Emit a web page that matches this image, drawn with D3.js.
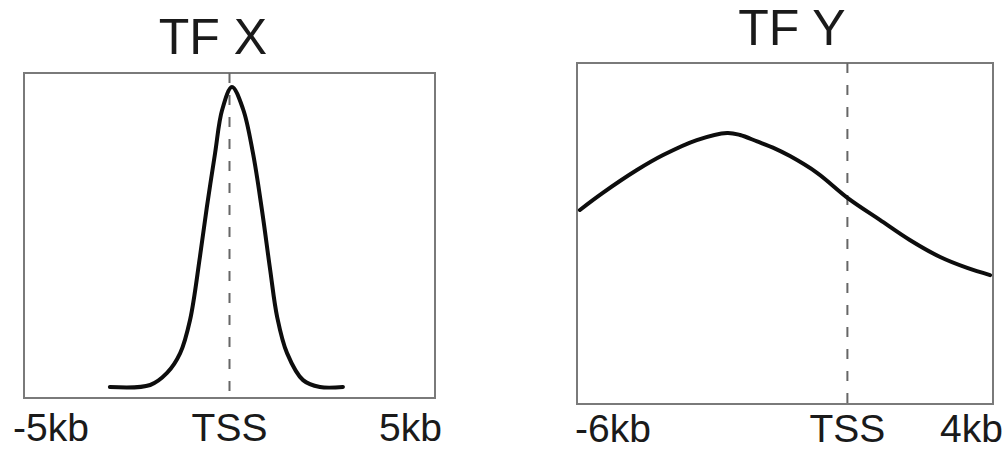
<!DOCTYPE html>
<html lang="en">
<head>
<meta charset="UTF-8">
<title>TF X / TF Y profiles</title>
<script src="https://d3js.org/d3.v7.min.js"></script>
<style>
  body { margin: 0; background: #fff; }
  text { font-family: "Liberation Sans", Arial, sans-serif; fill: #1a1a1a; }
</style>
</head>
<body>
<svg id="chart" width="1006" height="451"></svg>
<script>

// TF X, kb from TSS vs relative signal
const tfxKb     = [-2.91, -1.93, -1.52, -1.20, -0.96, -0.72, -0.55, -0.35, -0.18, 0.06, 0.33, 0.57, 0.79, 0.99, 1.16, 1.40, 1.79, 2.20, 2.76];
const tfxSignal = [0.034, 0.040, 0.077, 0.138, 0.240, 0.434, 0.588, 0.754, 0.886, 0.957, 0.889, 0.754, 0.578, 0.394, 0.249, 0.138, 0.055, 0.034, 0.034];

// TF Y
const tfyKb     = [-5.93, -5.38, -4.56, -3.93, -3.12, -2.39, -2.08, -1.67, -1.29, -0.88, -0.23, 0.51, 1.28, 2.00, 2.73, 3.38, 3.93];
const tfySignal = [0.569, 0.619, 0.686, 0.730, 0.774, 0.795, 0.789, 0.770, 0.752, 0.727, 0.678, 0.604, 0.540, 0.481, 0.431, 0.399, 0.378];

const titles = ["TF X", "TF Y"];
const tfxTicks = [-5, 0, 5];
const tfxTickLabels = ["-5kb", "TSS", "5kb"];
const tfyTicks = [-6, 0.5, 4];
const tfyTickLabels = ["-6kb", "TSS", "4kb"];
const tfxTss = 0;
const tfyTss = 0.5;

const svg = d3.select("#chart");

function drawPanel(p) {
    const x = d3.scaleLinear().domain(p.xDomain).range([p.left, p.right]);
    const y = d3.scaleLinear().domain([0, 1]).range([p.bottom, p.top]);
    const g = svg.append("g");

    // frame
    g.append("rect")
        .attr("x", p.left).attr("y", p.top)
        .attr("width", p.right - p.left).attr("height", p.bottom - p.top)
        .attr("fill", "none")
        .attr("stroke", "#7a7a7a")
        .attr("stroke-width", 2);

    // TSS marker
    g.append("line")
        .attr("x1", x(p.tss)).attr("x2", x(p.tss))
        .attr("y1", p.top).attr("y2", p.bottom)
        .attr("stroke", "#666")
        .attr("stroke-width", 2)
        .attr("stroke-dasharray", "10,12");

    const line = d3.line()
        .x((d, i) => x(p.kb[i]))
        .y(d => y(d))
        .curve(d3.curveCatmullRom.alpha(0.5));

    g.append("path")
        .datum(p.signal)
        .attr("d", line)
        .attr("fill", "none")
        .attr("stroke", "#0d0d0d")
        .attr("stroke-width", 4)
        .attr("stroke-linecap", "round")
        .attr("stroke-linejoin", "round");

    // title
    g.append("text")
        .attr("x", p.titleX).attr("y", p.titleY)
        .attr("text-anchor", "middle")
        .attr("font-size", 50)
        .text(p.title);

    // tick labels
    const anchors = ["start", "middle", "end"];
    const dx = [p.labelOffsetL, 0, p.labelOffsetR];
    g.selectAll("text.tick")
        .data(p.ticks)
        .join("text")
        .attr("class", "tick")
        .attr("x", (d, i) => x(d) + dx[i])
        .attr("y", p.labelY)
        .attr("text-anchor", (d, i) => anchors[i])
        .attr("font-size", 39)
        .text((d, i) => p.tickLabels[i]);
}

drawPanel({
    title: titles[0], kb: tfxKb, signal: tfxSignal,
    xDomain: [-5, 5], ticks: tfxTicks, tickLabels: tfxTickLabels, tss: tfxTss,
    left: 24, right: 435, top: 73, bottom: 398,
    titleX: 213, titleY: 54, labelY: 441, labelOffsetL: -11, labelOffsetR: 7
});

drawPanel({
    title: titles[1], kb: tfyKb, signal: tfySignal,
    xDomain: [-6, 4], ticks: tfyTicks, tickLabels: tfyTickLabels, tss: tfyTss,
    left: 577, right: 993, top: 63, bottom: 404,
    titleX: 792, titleY: 45, labelY: 442, labelOffsetL: -2, labelOffsetR: 10
});

</script>
</body>
</html>
